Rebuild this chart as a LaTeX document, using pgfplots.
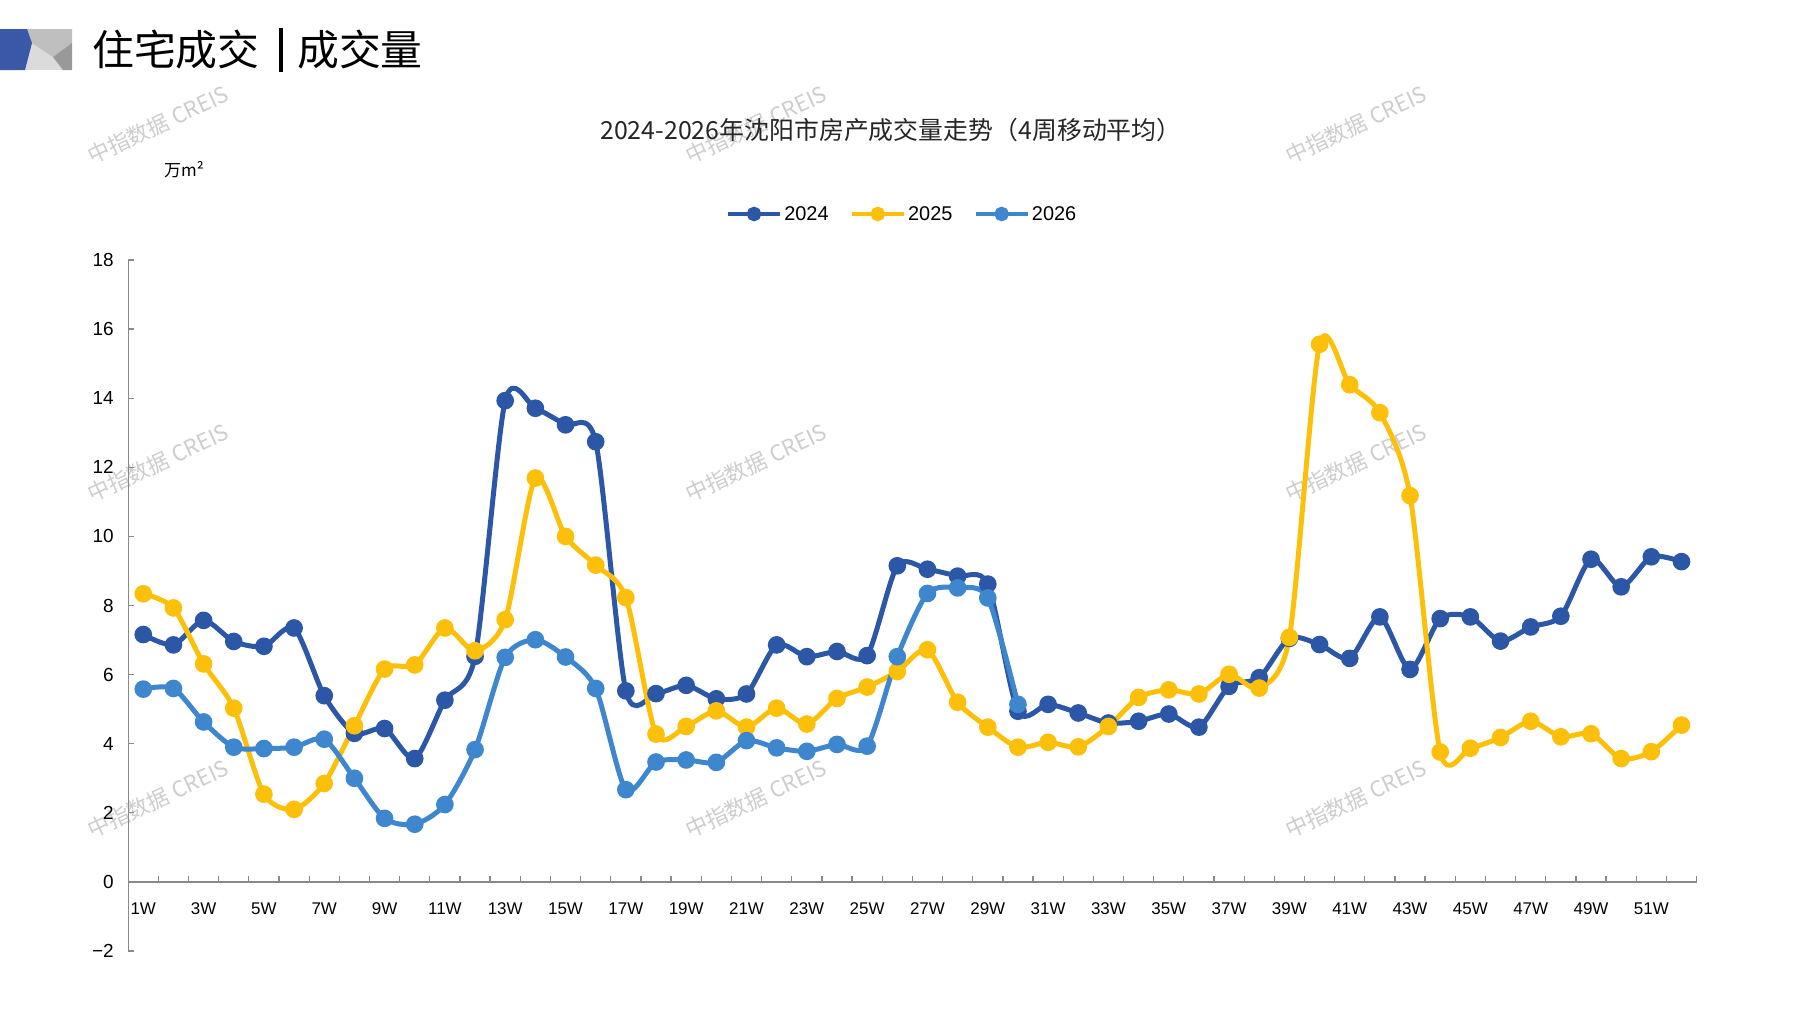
\documentclass[border=0pt]{standalone}
\usepackage{fontspec}
\setmainfont{Liberation Sans}
\newfontfamily\cjk{Noto Sans CJK SC}
\usepackage{pgfplots}
\pgfplotsset{compat=1.18}
\definecolor{cA}{RGB}{43,87,166}
\definecolor{cB}{RGB}{252,192,10}
\definecolor{cC}{RGB}{62,135,206}
\definecolor{logoblue}{RGB}{59,87,168}
\definecolor{axgray}{RGB}{137,137,137}
\definecolor{wm}{RGB}{205,205,205}
\begin{document}
\begin{tikzpicture}[x=1bp,y=1bp]
\path[use as bounding box] (0,0) rectangle (1797,-1010);
% logo
\fill[black!14] (25,-29) rectangle (72,-70);
\fill[black!25] (27,-29) -- (72,-29) -- (72,-43) -- (53,-57) -- (32,-43) -- cycle;
\fill[black!40] (72,-43) -- (72,-70) -- (63,-70) -- (53,-57) -- cycle;
\fill[logoblue] (0,-29) -- (27,-29) -- (32,-43) -- (25,-70) -- (0,-70) -- cycle;
% header
\node[anchor=west, inner sep=0, font=\cjk\fontsize{42}{42}\selectfont] at (92,-50) {住宅成交};
\draw[line width=3.5bp] (281,-28) -- (281,-72);
\node[anchor=west, inner sep=0, font=\cjk\fontsize{42}{42}\selectfont] at (297,-50) {成交量};
% watermarks
\foreach \wx in {158,756,1356}{
  \foreach \wy in {125,463,799}{
    \node[rotate=25, text=wm, font=\cjk\fontsize{22}{22}\selectfont] at (\wx,-\wy) {中指数据 CREIS};
  }
}
% title and unit
\node[text=black!85, font=\cjk\fontsize{25}{25}\selectfont] at (891,-130) {2024-2026年沈阳市房产成交量走势（4周移动平均）};
\node[font=\cjk\fontsize{17}{17}\selectfont] at (184,-170) {万m²};
\begin{axis}[
  at={(128.2bp,-951bp)}, anchor=south west,
  scale only axis, width=1568.4bp, height=691bp,
  xmin=0.5, xmax=52.5, ymin=-2, ymax=18,
  axis x line*=middle, axis y line*=left,
  axis line style={-, draw=axgray, line width=1.3bp},
  ytick={-2,0,...,18},
  yticklabels={−2,0,2,4,6,8,10,12,14,16,18},
  ytick align=inside,
  major tick length=5.5bp,
  minor tick length=6bp,
  tick style={draw=axgray, line width=1.3bp},
  xtick={1,3,...,51},
  xticklabels={1W,3W,5W,7W,9W,11W,13W,15W,17W,19W,21W,23W,25W,27W,29W,31W,33W,35W,37W,39W,41W,43W,45W,47W,49W,51W},
  minor xtick={0.5,1.5,...,52.5},
  xtick align=inside,
  x tick style={draw=none},
  minor x tick style={draw=axgray, line width=1.3bp},
  xticklabel style={font=\fontsize{17}{17}\selectfont, yshift=-17bp},
  yticklabel style={font=\fontsize{19}{19}\selectfont, xshift=-11bp},
  legend columns=3,
  legend style={at={(0.4934,1.0666)}, anchor=center, draw=none, fill=none,
    font=\fontsize{20}{20}\selectfont, nodes={inner sep=2bp},
    /tikz/every even column/.append style={column sep=19bp}},
  legend image code/.code={\draw[mark repeat=2,mark phase=2] plot coordinates {(0bp,0bp) (26bp,0bp) (52bp,0bp)};},
  legend image post style={mark size=5bp, line width=4.5bp},
  every axis plot/.append style={smooth, tension=0.45, line width=5bp, mark=*, mark size=6.3bp},
  clip=false,
]
\addplot[color=cA, mark options={draw=none, fill=cA}] coordinates {
(1,7.16)(2,6.86)(3,7.57)(4,6.96)(5,6.82)(6,7.35)(7,5.39)(8,4.30)(9,4.44)(10,3.57)(11,5.26)(12,6.53)(13,13.93)(14,13.71)(15,13.23)(16,12.74)(17,5.53)(18,5.45)(19,5.69)(20,5.30)(21,5.44)(22,6.86)(23,6.52)(24,6.67)(25,6.55)(26,9.15)(27,9.05)(28,8.85)(29,8.62)(30,4.94)(31,5.14)(32,4.89)(33,4.60)(34,4.65)(35,4.86)(36,4.48)(37,5.66)(38,5.91)(39,7.05)(40,6.87)(41,6.47)(42,7.67)(43,6.15)(44,7.62)(45,7.67)(46,6.97)(47,7.38)(48,7.69)(49,9.34)(50,8.54)(51,9.41)(52,9.27)
};
\addlegendentry{2024}
\addplot[color=cB, mark options={draw=none, fill=cB}] coordinates {
(1,8.34)(2,7.93)(3,6.31)(4,5.03)(5,2.54)(6,2.10)(7,2.85)(8,4.52)(9,6.16)(10,6.28)(11,7.35)(12,6.69)(13,7.59)(14,11.69)(15,10.0)(16,9.17)(17,8.23)(18,4.28)(19,4.50)(20,4.95)(21,4.48)(22,5.03)(23,4.57)(24,5.31)(25,5.64)(26,6.09)(27,6.72)(28,5.20)(29,4.48)(30,3.90)(31,4.04)(32,3.91)(33,4.50)(34,5.34)(35,5.56)(36,5.44)(37,6.01)(38,5.61)(39,7.08)(40,15.56)(41,14.39)(42,13.58)(43,11.18)(44,3.76)(45,3.87)(46,4.18)(47,4.65)(48,4.20)(49,4.29)(50,3.57)(51,3.77)(52,4.54)
};
\addlegendentry{2025}
\addplot[color=cC, mark options={draw=none, fill=cC}] coordinates {
(1,5.58)(2,5.60)(3,4.63)(4,3.90)(5,3.86)(6,3.90)(7,4.13)(8,3.00)(9,1.84)(10,1.67)(11,2.24)(12,3.83)(13,6.50)(14,7.01)(15,6.51)(16,5.60)(17,2.67)(18,3.47)(19,3.53)(20,3.46)(21,4.09)(22,3.88)(23,3.78)(24,3.98)(25,3.93)(26,6.52)(27,8.35)(28,8.51)(29,8.22)(30,5.14)
};
\addlegendentry{2026}
\end{axis}
\end{tikzpicture}
\end{document}
